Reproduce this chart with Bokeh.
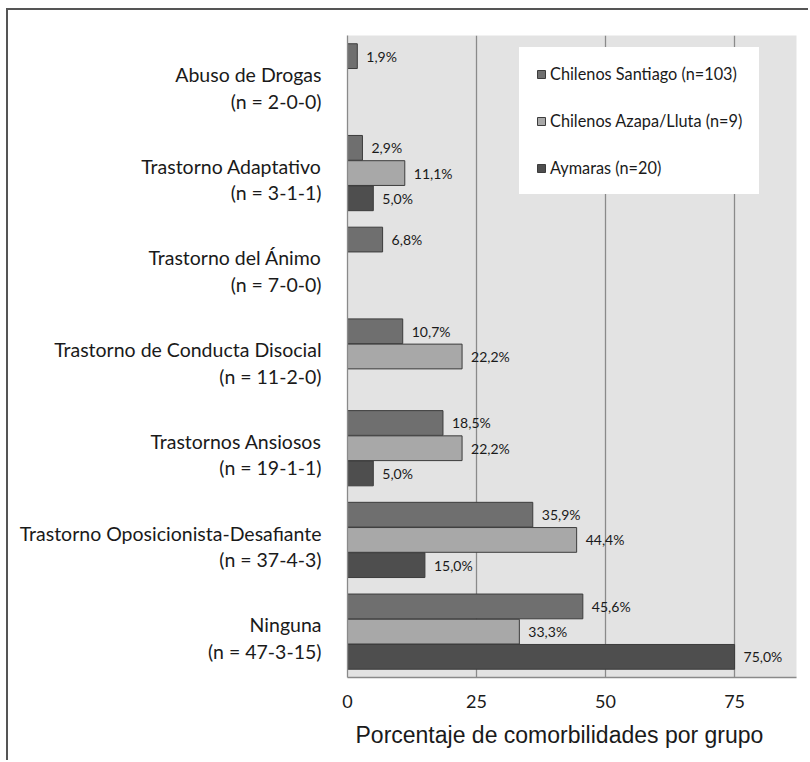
from bokeh.plotting import figure
from bokeh.models import Range1d, Legend, LegendItem, ColumnDataSource, FixedTicker, Title
from bokeh.core.properties import value
from bokeh.embed import file_html
from bokeh.resources import INLINE

# ---- data (top to bottom as in the chart) ----
categories = [
    "Abuso de Drogas",
    "Trastorno Adaptativo",
    "Trastorno del Ánimo",
    "Trastorno de Conducta Disocial",
    "Trastornos Ansiosos",
    "Trastorno Oposicionista-Desafiante",
    "Ninguna",
]
n_labels = ["(n = 2-0-0)", "(n = 3-1-1)", "(n = 7-0-0)", "(n = 11-2-0)",
            "(n = 19-1-1)", "(n = 37-4-3)", "(n = 47-3-15)"]
santiago = [1.9, 2.9, 6.8, 10.7, 18.5, 35.9, 45.6]
azapa = [0.0, 11.1, 0.0, 22.2, 22.2, 44.4, 33.3]
aymaras = [0.0, 5.0, 0.0, 0.0, 5.0, 15.0, 75.0]
series_names = ["Chilenos Santiago (n=103)", "Chilenos Azapa/Lluta (n=9)", "Aymaras (n=20)"]
x_ticks = [0, 25, 50, 75]
x_title = "Porcentaje de comorbilidades por grupo"

colors = ["#6f6f6f", "#a8a8a8", "#4e4e4e"]
offsets = [0.275, 0.0, -0.275]
label_shift = -0.07

ncat = len(categories)
pos = [ncat - 1 - i for i in range(ncat)]          # category slot, top = highest
tick_pos = [round(y + label_shift, 3) for y in pos]
tick_text = [f"{c}\n{n}" for c, n in zip(categories, n_labels)]

p = figure(width=802, height=752, output_backend="svg", toolbar_location=None,
           y_range=Range1d(-0.5, ncat - 0.5), x_range=Range1d(0, 87),
           min_border_left=339, min_border_right=14, min_border_top=25, min_border_bottom=85)
p.styles = {"margin-left": "6px", "margin-top": "8px",
            "border-top": "2px solid #555555", "border-left": "2px solid #555555"}

p.background_fill_color = "#e3e3e3"
p.border_fill_color = "white"
p.outline_line_color = None

p.ygrid.grid_line_color = None
p.xgrid.grid_line_color = "#8a8a8a"
p.xgrid.grid_line_width = 1.3
p.xaxis.ticker = FixedTicker(ticks=x_ticks)
p.yaxis.ticker = FixedTicker(ticks=tick_pos)
p.yaxis.major_label_overrides = {t: s for t, s in zip(tick_pos, tick_text)}

for ax in (p.xaxis, p.yaxis):
    ax.axis_line_color = "#8a8a8a"
    ax.axis_line_width = 1.3
    ax.major_tick_in = 0
    ax.major_tick_out = 0
    ax.minor_tick_in = 0
    ax.minor_tick_out = 0

p.yaxis.major_label_text_font = "Lato"
p.yaxis.major_label_text_font_size = "19.5px"
p.yaxis.major_label_text_color = "#1a1a1a"
p.yaxis.major_label_text_line_height = 1.16
p.yaxis.major_label_standoff = 26

p.xaxis.major_label_text_font = "Lato"
p.xaxis.major_label_text_font_size = "18px"
p.xaxis.major_label_text_color = "#1a1a1a"
p.xaxis.major_label_standoff = 17

xt = Title(text=x_title, align="left", offset=8, standoff=19,
           text_font="Liberation Sans", text_font_style="normal",
           text_font_size="23px", text_color="#1a1a1a")
p.add_layout(xt, "below")

items = []
for vals, col, off, name in zip([santiago, azapa, aymaras], colors, offsets, series_names):
    ys = [y + off for y, v in zip(pos, vals) if v > 0]
    vs = [v for v in vals if v > 0]
    labels = [f"{v:.1f}".replace(".", ",") + "%" for v in vs]
    src = ColumnDataSource(dict(y=ys, val=vs, lab=labels))
    r = p.hbar(y="y", right="val", left=0, height=0.27,
               source=src, fill_color=col, line_color="#3c3c3c", line_width=1)
    p.text(x="val", y="y", text="lab", source=src,
           x_offset=9, text_baseline="middle", text_align="left",
           text_font=value("Lato"), text_font_size="14px", text_color="#1a1a1a")
    items.append(LegendItem(label=name, renderers=[r]))

legend = Legend(items=items, location=(172, 483))
legend.background_fill_color = "white"
legend.background_fill_alpha = 1
legend.border_line_color = "white"
legend.border_line_width = 1
legend.padding = 16
legend.label_text_font = "Lato"
legend.label_text_font_size = "16.3px"
legend.label_text_color = "#1a1a1a"
legend.glyph_width = 10
legend.glyph_height = 10
legend.spacing = 28
legend.margin = 0
legend.label_standoff = 4
p.add_layout(legend)

open("out.html", "w").write(file_html(p, INLINE))
